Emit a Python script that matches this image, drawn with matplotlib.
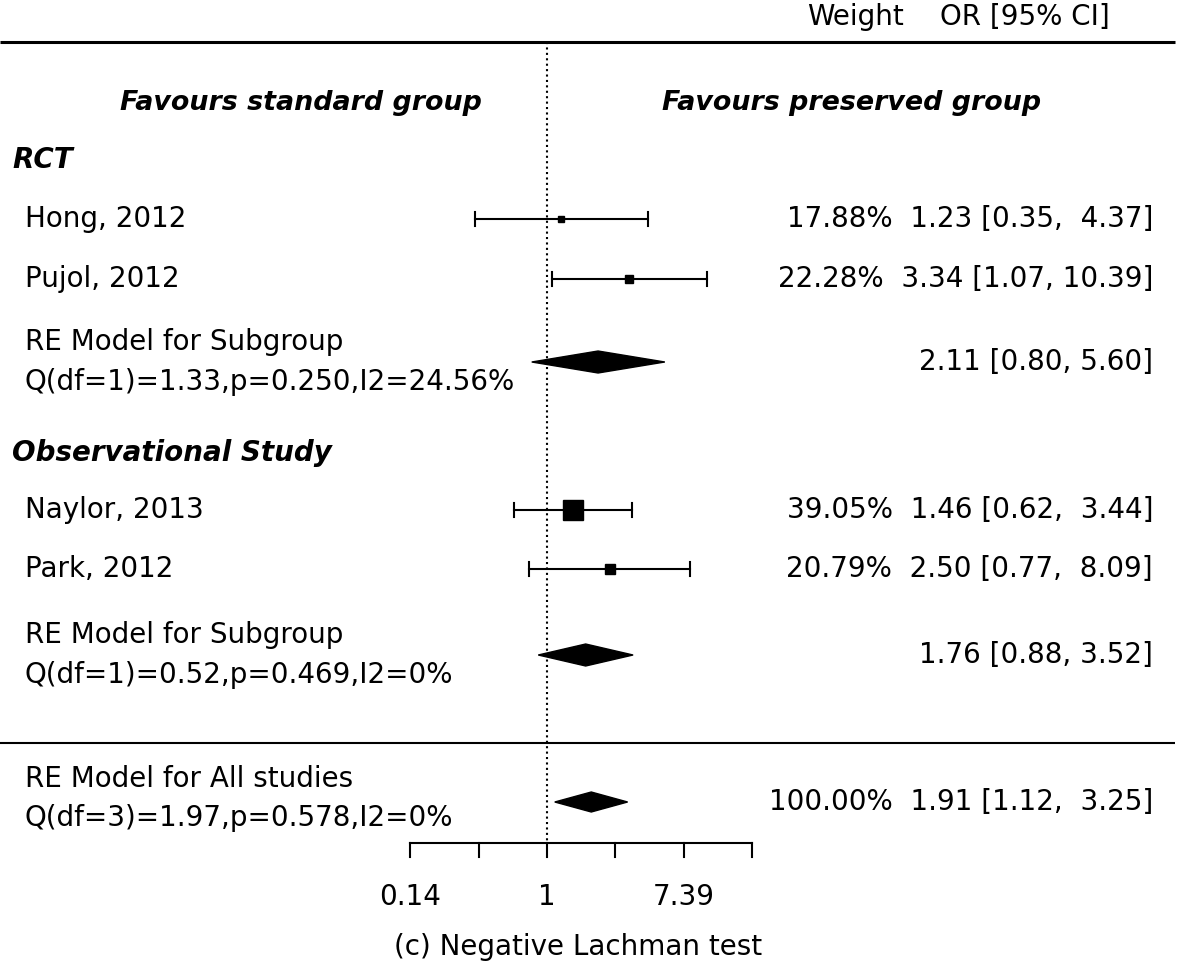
import numpy as np
import matplotlib
matplotlib.use("Agg")
import matplotlib.pyplot as plt
from matplotlib.patches import Polygon

# ---------------- data ----------------
studies = ["Hong, 2012", "Pujol, 2012", "Naylor, 2013", "Park, 2012"]
or_est = [1.23, 3.34, 1.46, 2.50]
ci_lo = [0.35, 1.07, 0.62, 0.77]
ci_hi = [4.37, 10.39, 3.44, 8.09]
weights = [17.88, 22.28, 39.05, 20.79]

groups = ["RCT", "Observational Study"]
sub_est = [2.11, 1.76]
sub_lo = [0.80, 0.88]
sub_hi = [5.60, 3.52]
sub_stats = ["Q(df=1)=1.33,p=0.250,I2=24.56%", "Q(df=1)=0.52,p=0.469,I2=0%"]

all_est, all_lo, all_hi = 1.91, 1.12, 3.25
all_weight = 100.00
all_stats = "Q(df=3)=1.97,p=0.578,I2=0%"

tick_logs = [-2, -1, 0, 1, 2, 3]
tick_labels = {-2: "0.14", 0: "1", 2: "7.39"}
caption = "(c) Negative Lachman test"

# ---------------- layout (pixel-based) ----------------
W, H = 1181, 972
X0 = 547.0      # pixel of log(OR)=0
PPU = 68.4      # pixels per log unit

def px(x):
    return (x - X0) / PPU

study_y = [219, 279, 510, 569]
sq_size = [4.0, 5.5, 14.4, 6.5]   # marker sizes (pt)
group_y = [160, 453]
sub_y = [362, 655]
all_y = 802
fs = 20
FONT = "DejaVu Sans"

fig = plt.figure(figsize=(W / 100, H / 100), dpi=100)
ax = fig.add_axes([0, 0, 1, 1])
ax.set_xlim(px(0), px(W))
ax.set_ylim(H, 0)
ax.axis("off")

def txt(x, y, s, ha="left", size=fs, **kw):
    ax.text(px(x), y, s, ha=ha, va="center", fontsize=size, family=FONT, **kw)

def ci_str(e, l, h):
    hi_s = f"{h:.2f}"
    pad = "  " if len(hi_s) == 4 else " "
    return f"{e:.2f} [{l:.2f},{pad}{hi_s}]"

# header
txt(855, 17, "Weight", ha="center")
txt(1025, 17, "OR [95% CI]", ha="center")
ax.plot([px(0), px(1175)], [42, 42], color="black", lw=2.2, solid_capstyle="butt")
ax.plot([px(0), px(1175)], [743, 743], color="black", lw=1.5, solid_capstyle="butt")

# reference dotted line
ax.plot([0, 0], [42, 843], color="black", lw=1.5, dashes=(1, 1.6))

txt(301, 103, "Favours standard group", ha="center", size=19.4, fontweight="bold", style="italic")
txt(852, 103, "Favours preserved group", ha="center", size=19.4, fontweight="bold", style="italic")

for g, gy in zip(groups, group_y):
    txt(12, gy, g, fontweight="bold", style="italic")

# studies
for name, e, l, h, w, y, ms in zip(studies, or_est, ci_lo, ci_hi, weights, study_y, sq_size):
    le, ll, lh = np.log(e), np.log(l), np.log(h)
    ax.plot([ll, lh], [y, y], color="black", lw=1.5)
    for c in (ll, lh):
        ax.plot([c, c], [y - 7, y + 7], color="black", lw=1.5)
    ax.plot([le], [y], marker="s", ms=ms, color="black", mec="black")
    txt(25, y, name)
    txt(1153, y, f"{w:.2f}%  " + ci_str(e, l, h), ha="right")

def diamond(e, l, h, y, hh=11):
    pts = [(np.log(l), y), (np.log(e), y - hh), (np.log(h), y), (np.log(e), y + hh)]
    ax.add_patch(Polygon(pts, closed=True, facecolor="black", edgecolor="black", lw=1))

for e, l, h, y, st in zip(sub_est, sub_lo, sub_hi, sub_y, sub_stats):
    diamond(e, l, h, y)
    txt(25, y - 20, "RE Model for Subgroup")
    txt(25, y + 20, st)
    txt(1153, y, f"{e:.2f} [{l:.2f}, {h:.2f}]", ha="right")

diamond(all_est, all_lo, all_hi, all_y, hh=10)
txt(25, all_y - 23, "RE Model for All studies")
txt(25, all_y + 16, all_stats)
txt(1153, all_y, f"{all_weight:.2f}%  " + ci_str(all_est, all_lo, all_hi), ha="right")

# axis
ax.plot([tick_logs[0], tick_logs[-1]], [843, 843], color="black", lw=1.5)
for t in tick_logs:
    ax.plot([t, t], [843, 857], color="black", lw=1.5)
for t, lab in tick_labels.items():
    ax.text(t, 897, lab, ha="center", va="center", fontsize=fs, family=FONT)

ax.text(px(578), 947, caption, ha="center", va="center", fontsize=fs, family=FONT)

fig.savefig("out.png", dpi=100)
